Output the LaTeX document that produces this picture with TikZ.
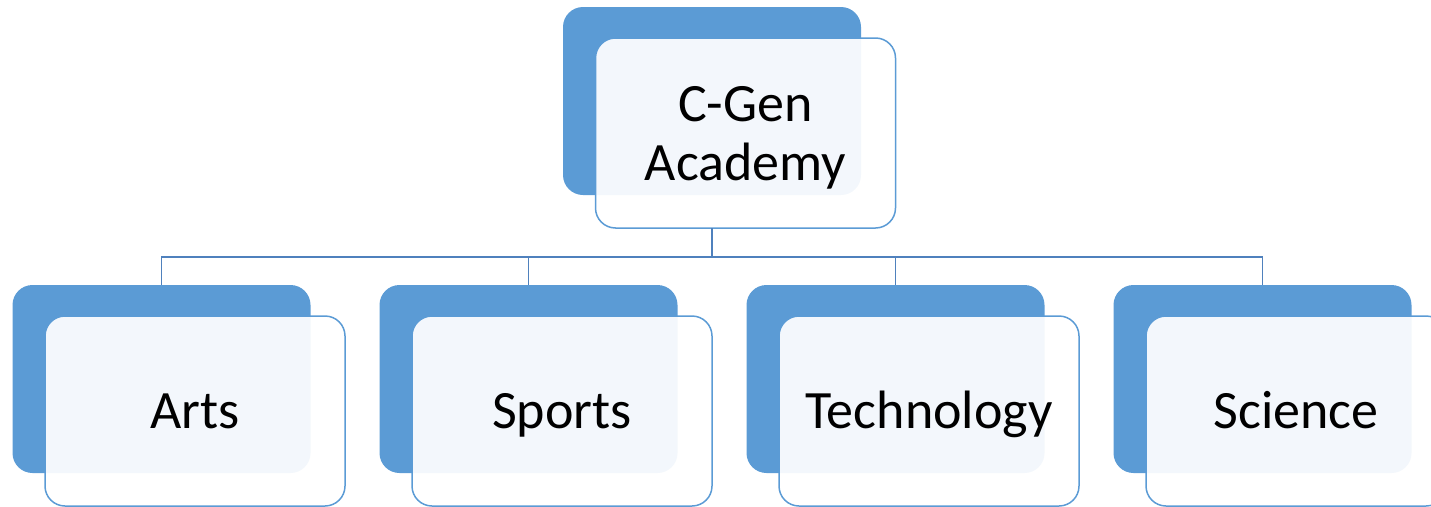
\documentclass[tikz,border=0pt]{standalone}
\usepackage{fontspec}
\setmainfont{Carlito}
\usetikzlibrary{positioning}
\definecolor{backblue}{HTML}{5B9BD5}
\definecolor{lineblue}{HTML}{4F81BD}
\tikzset{
  backbox/.style={
    rectangle, rounded corners=20pt,
    fill=backblue, draw=none,
    minimum width=298pt, minimum height=188pt,
    inner sep=0pt, outer sep=0pt
  },
  frontbox/.style={
    rectangle, rounded corners=20pt,
    fill=white, fill opacity=0.93, text opacity=1,
    draw=backblue, line width=1.5pt,
    minimum width=300pt, minimum height=190pt,
    inner sep=0pt, outer sep=0pt,
    align=center,
    font=\fontsize{54}{59}\selectfont
  },
  onetext/.style={text height=35pt, text depth=0pt},
  link/.style={draw=lineblue, line width=1.5pt}
}

\begin{document}
\begin{tikzpicture}[x=1pt,y=-1pt]
\useasboundingbox (0,0) rectangle (1431,506);
% top of the tree
\node[backbox] (acadback) at (712,101) {};
\node[frontbox, text depth=0pt] (acad) at (745.5,133) {C-Gen\\Academy};
% departments
\node[backbox] (artsback) at (161.5,379) {};
\node[frontbox, onetext] (arts) at (195,411) {Arts};
\node[backbox] (sportsback) at (528.5,379) {};
\node[frontbox, onetext] (sports) at (562,411) {Sports};
\node[backbox] (techback) at (895.5,379) {};
\node[frontbox, onetext] (tech) at (929,411) {Technology};
\node[backbox] (sciback) at (1262.5,379) {};
\node[frontbox, onetext] (sci) at (1296,411) {Science};
% connectors
\coordinate (bus) at (712,257);
\draw[link] (acadback.south |- acad.south) -- (bus);
\draw[link] (bus) -| (artsback.north);
\draw[link] (bus) -| (sportsback.north);
\draw[link] (bus) -| (techback.north);
\draw[link] (bus) -| (sciback.north);
\end{tikzpicture}
\end{document}
